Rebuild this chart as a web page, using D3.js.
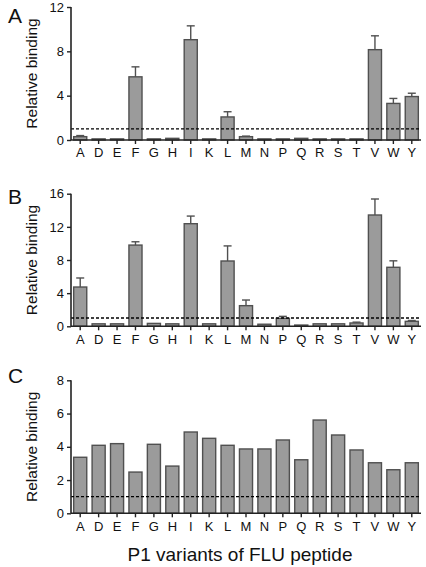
<!DOCTYPE html>
<html><head><meta charset="utf-8">
<script src="https://cdn.jsdelivr.net/npm/d3@7"></script>
<style>body{margin:0;background:#fff}text{font-family:"Liberation Sans",Arial,sans-serif;fill:#111}</style>
</head><body>
<svg id="c" width="426" height="567"></svg>
<script>
const categories = ["A","D","E","F","G","H","I","K","L","M","N","P","Q","R","S","T","V","W","Y"];
const valuesA = [0.3,0.1,0.1,5.7,0.1,0.15,9.05,0.1,2.08,0.3,0.1,0.1,0.15,0.1,0.1,0.1,8.15,3.3,3.92];
const errorsA = [0.1,0,0,0.9,0,0,1.25,0,0.47,0.05,0,0,0,0,0,0,1.25,0.45,0.3];
const valuesB = [4.74,0.3,0.3,9.8,0.35,0.3,12.38,0.3,7.88,2.49,0.25,0.96,0.15,0.3,0.3,0.4,13.43,7.12,0.6];
const errorsB = [1.09,0,0,0.4,0,0,0.92,0,1.82,0.68,0,0.24,0,0,0,0.1,1.93,0.78,0.1];
const valuesC = [3.37,4.09,4.19,2.48,4.15,2.84,4.89,4.51,4.09,3.87,3.87,4.41,3.22,5.61,4.71,3.81,3.04,2.62,3.04];
const ticksA = [0,4,8,12];
const ticksB = [0,4,8,12,16];
const ticksC = [0,2,4,6,8];
const panelLabels = ["A","B","C"];
const thresholds = [1,1,1];
const yTitle = "Relative binding";
const xTitle = "P1 variants of FLU peptide";

const svg = d3.select("#c");
const panels = [
  {vals:valuesA, errs:errorsA, ticks:ticksA, top:7, bottom:140, showErr:true, labelY:23},
  {vals:valuesB, errs:errorsB, ticks:ticksB, top:193.7, bottom:326.3, showErr:true, labelY:204},
  {vals:valuesC, errs:null, ticks:ticksC, top:380.3, bottom:513.3, showErr:false, labelY:383}
];
const x0 = 71, x1 = 421;
const x = d3.scaleBand().domain(categories).range([x0, x1]).paddingInner(0.29).paddingOuter(0.145);

panels.forEach((p, pi) => {
  const y = d3.scaleLinear().domain([0, d3.max(p.ticks)]).range([p.bottom, p.top]);
  const g = svg.append("g");
  g.selectAll("rect.bar").data(categories).enter().append("rect")
    .attr("x", d => x(d)).attr("width", x.bandwidth())
    .attr("y", (d,i) => y(p.vals[i])).attr("height", (d,i) => y(0) - y(p.vals[i]))
    .attr("fill", "#9b9b9b").attr("stroke", "#505050").attr("stroke-width", 1.4);
  if (p.showErr) {
    categories.forEach((c, i) => {
      const e = p.errs[i];
      if (e <= 0) return;
      const cx = x(c) + x.bandwidth()/2;
      g.append("line").attr("x1", cx).attr("x2", cx).attr("y1", y(p.vals[i])).attr("y2", y(p.vals[i]+e))
        .attr("stroke", "#505050").attr("stroke-width", 1.4);
      g.append("line").attr("x1", cx-4).attr("x2", cx+4).attr("y1", y(p.vals[i]+e)).attr("y2", y(p.vals[i]+e))
        .attr("stroke", "#505050").attr("stroke-width", 1.4);
    });
  }
  g.append("line").attr("x1", x0).attr("x2", x1).attr("y1", y(thresholds[pi])).attr("y2", y(thresholds[pi]))
    .attr("stroke", "#000").attr("stroke-width", 1.3).attr("stroke-dasharray", "3,2");
  const ya = g.append("g").attr("transform", `translate(${x0},0)`)
    .call(d3.axisLeft(y).tickValues(p.ticks).tickSize(4).tickPadding(3).tickFormat(d3.format("d")));
  ya.select(".domain").attr("stroke", "#222").attr("stroke-width", 1.6).attr("d", `M0,${p.top}V${p.bottom}`);
  ya.selectAll(".tick line").attr("stroke", "#222").attr("stroke-width", 1.4);
  ya.selectAll(".tick text").style("font-size", "13px").attr("font-family", "Liberation Sans, Arial, sans-serif").attr("fill", "#111");
  const xa = g.append("g").attr("transform", `translate(0,${p.bottom})`)
    .call(d3.axisBottom(x).tickSize(4).tickPadding(4));
  xa.select(".domain").attr("stroke", "#222").attr("stroke-width", 1.6).attr("d", `M${x0},0H${x1}`);
  xa.selectAll(".tick line").attr("stroke", "#222").attr("stroke-width", 1.4);
  xa.selectAll(".tick text").style("font-size", "13px").attr("font-family", "Liberation Sans, Arial, sans-serif").attr("fill", "#111");
  g.append("text").attr("transform", `translate(37,${(p.top+p.bottom)/2}) rotate(-90)`)
    .attr("text-anchor", "middle").style("font-size", "15.5px").text(yTitle);
  g.append("text").attr("x", 8).attr("y", p.labelY).style("font-size", "21px").text(panelLabels[pi]);
});
svg.append("text").attr("x", 240).attr("y", 561).attr("text-anchor", "middle").style("font-size", "19px").text(xTitle);
</script>
</body></html>
